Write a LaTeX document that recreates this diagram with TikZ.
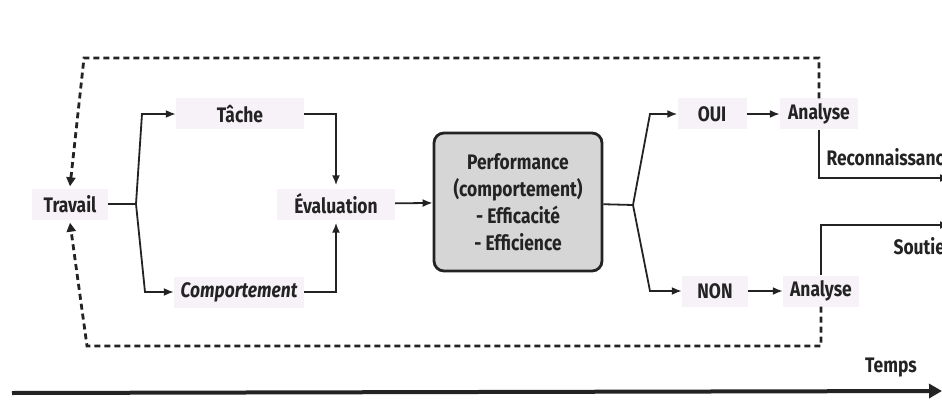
\documentclass[tikz,border=0pt]{standalone}
\usepackage{fontspec}
\setmainfont{Fira Sans}[FakeStretch=0.83]
\usetikzlibrary{arrows.meta, positioning, calc}

\definecolor{encre}{RGB}{35,35,35}
\definecolor{fondetape}{RGB}{247,242,247}
\definecolor{grisperf}{RGB}{214,214,214}

\begin{document}
\begin{tikzpicture}[x=1pt,y=-1pt,encre,
    font=\fontsize{21}{25}\selectfont\bfseries,
    etape/.style={fill=fondetape, inner sep=0pt, minimum height=31pt},
    fl/.style={-{Latex[length=10pt,width=8pt]}, line width=1.8pt},
    trait/.style={line width=1.8pt},
    retour/.style={line width=2.8pt, dash pattern=on 6pt off 4pt}]
    \useasboundingbox (0,0) rectangle (942,401);
    \clip (0,0) rectangle (942,401);
    %
    \node[etape, minimum width=76pt] (travail) at (70,204) {Travail};
    \node[etape, minimum width=128pt] (tache) at (240,114) {Tâche};
    \node[etape, minimum width=130pt] (comp) at (239,292) {\itshape Comportement};
    \node[etape, minimum width=118pt] (eval) at (336,204) {Évaluation};
    \node[draw, line width=2.8pt, fill=grisperf, rounded corners=10pt,
          minimum width=168pt, minimum height=138pt, align=center,
          font=\fontsize{21}{27}\selectfont\bfseries] (perf) at (518,202)
          {Performance\\(comportement)\\- Efficacité\\- Efficience};
    \node[etape, minimum width=69pt] (oui) at (712,114) {OUI};
    \node[etape, minimum width=78pt] (anaoui) at (819,114) {Analyse};
    \node[etape, minimum width=66pt] (non) at (715,291) {NON};
    \node[etape, minimum width=76pt] (ananon) at (821,291) {Analyse};
    %
    \coordinate (fourcheG) at (136,204);
    \coordinate (hautG) at (142,114);
    \coordinate (basG) at (145,292);
    \draw[trait] (travail) -- (fourcheG);
    \draw[fl] (fourcheG) -- (hautG) -- (tache);
    \draw[fl] (fourcheG) -- (basG) -- (comp);
    \draw[fl] (tache) -| ($(eval.north)+(0,-3)$);
    \draw[fl] (comp) -| ($(eval.south)+(0,3)$);
    \draw[fl] (eval) -- (perf);
    %
    \coordinate (fourcheD) at (633,205);
    \coordinate (hautD) at (650,114);
    \coordinate (basD) at (650,291);
    \draw[trait] (perf) -- (fourcheD);
    \draw[fl] (fourcheD) -- (hautD) -- (oui);
    \draw[fl] (fourcheD) -- (basD) -- (non);
    \draw[fl] (oui.east) -- (anaoui.west);
    \draw[fl] (non.east) -- (ananon.west);
    %
    \coordinate (reco) at (950,178);
    \coordinate (sout) at (950,225);
    \draw[fl] (anaoui.south) |- (reco);
    \draw[fl] (ananon.north) |- (sout);
    \node[anchor=west] (lreco) at (823,157) {Reconnaissance};
    \node[anchor=west] (lsout) at (890,246) {Soutien};
    %
    \coordinate (coinH) at (84,58);
    \coordinate (coinB) at (87,346);
    \draw[retour, -{Triangle[length=9pt,width=9pt]}] (anaoui.north) |- (coinH) -- ($(travail.north)+(0,-2)$);
    \draw[retour, -{Triangle[length=9pt,width=9pt]}] (ananon.south) |- (coinB) -- ($(travail.south)+(0,3)$);
    %
    \coordinate (t0) at (12,393);
    \coordinate (t1) at (942,391);
    \draw[line width=4pt, -{Triangle[length=13pt,width=14pt]}] (t0) -- (t1);
    \node (temps) at (891,368) {Temps};
\end{tikzpicture}
\end{document}
